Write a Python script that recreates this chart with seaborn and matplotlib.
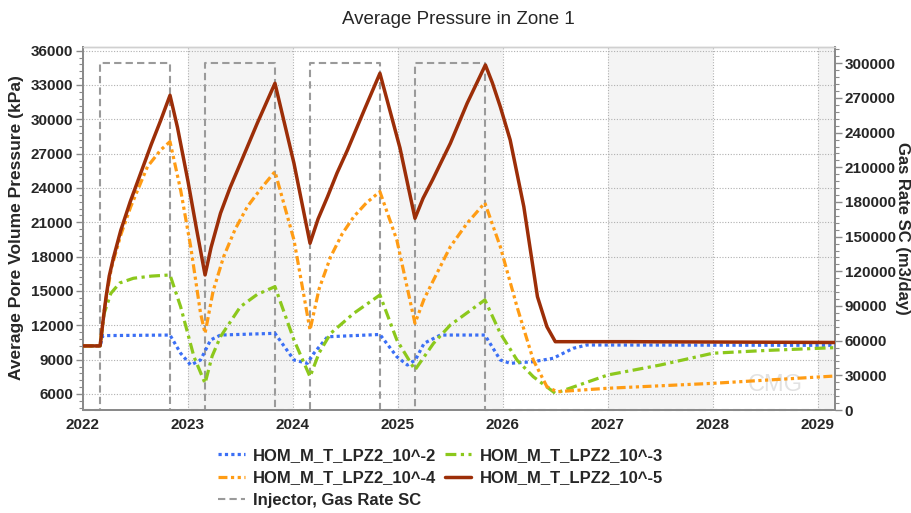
import numpy as np
import matplotlib
matplotlib.use('Agg')
import matplotlib.pyplot as plt
import pandas as pd
import seaborn as sns
from matplotlib.ticker import MultipleLocator

# ---- data (decimal years) ----
t_blue = [2022.0, 2022.163, 2022.19, 2022.829, 2022.93, 2023.026, 2023.12, 2023.216, 2023.31,
          2023.829, 2024.01, 2024.137, 2024.2, 2024.33, 2024.829, 2024.99, 2025.09, 2025.167,
          2025.25, 2025.405, 2025.829, 2025.976, 2026.07, 2026.29, 2026.48, 2026.67, 2026.8, 2029.165]
p_blue = [10200, 10200, 11100, 11150, 9560, 8530, 8970, 10720, 11150,
          11300, 8970, 8680, 9560, 11000, 11200, 9260, 8530, 8970,
          10430, 11150, 11150, 8970, 8680, 8820, 9120, 9990, 10280, 10250]

t_green = [2022.0, 2022.163, 2022.2, 2022.266, 2022.35, 2022.48, 2022.65, 2022.829, 2022.93,
           2023.057, 2023.163, 2023.23, 2023.31, 2023.5, 2023.66, 2023.829, 2024.01, 2024.163,
           2024.25, 2024.36, 2024.58, 2024.829, 2024.99, 2025.163, 2025.34, 2025.5, 2025.829,
           2025.976, 2026.135, 2026.29, 2026.5, 2027.0, 2027.5, 2028.0, 2028.5, 2029.165]
p_green = [10200, 10200, 13000, 14800, 15700, 16110, 16300, 16400, 13630,
           9260, 6930, 9300, 11010, 13630, 14700, 15380, 10720, 7510,
           9600, 11300, 13050, 14650, 10720, 8100, 10430, 12030, 14220,
           11300, 8970, 7510, 6060, 7660, 8530, 9560, 9800, 10050]

t_orange = [2022.0, 2022.163, 2022.2, 2022.27, 2022.36, 2022.455, 2022.614, 2022.74, 2022.829,
            2022.93, 2023.026, 2023.12, 2023.163, 2023.24, 2023.34, 2023.45, 2023.566, 2023.7,
            2023.829, 2024.01, 2024.163, 2024.25, 2024.36, 2024.47, 2024.58, 2024.7, 2024.829,
            2024.99, 2025.163, 2025.25, 2025.34, 2025.5, 2025.66, 2025.829, 2025.976, 2026.135,
            2026.29, 2026.42, 2026.516, 2027.0, 2028.0, 2029.165]
p_orange = [10200, 10200, 13200, 17000, 19900, 22370, 25860, 27320, 28050,
            23830, 18870, 13050, 11300, 15000, 18000, 20400, 22370, 24000,
            25430, 19460, 11590, 15200, 18000, 20000, 21490, 22700, 23680,
            19460, 12180, 14300, 15960, 18870, 20920, 22700, 18870, 13630,
            8970, 6640, 6200, 6500, 6930, 7570]

t_brown = [2022.0, 2022.163, 2022.19, 2022.22, 2022.25, 2022.29, 2022.36, 2022.45, 2022.55,
           2022.65, 2022.74, 2022.829, 2022.9, 2023.0, 2023.08, 2023.163, 2023.22, 2023.31,
           2023.4, 2023.5, 2023.66, 2023.829, 2024.01, 2024.163, 2024.24, 2024.33, 2024.42,
           2024.52, 2024.68, 2024.829, 2025.02, 2025.163, 2025.24, 2025.33, 2025.42, 2025.5,
           2025.66, 2025.834, 2025.9, 2025.976, 2026.07, 2026.2, 2026.33, 2026.42, 2026.5,
           2027.2, 2029.165]
p_brown = [10200, 10200, 12300, 14500, 16300, 17900, 20300, 22800, 25300,
           27800, 29900, 32100, 29300, 24600, 20500, 16400, 18800, 21790,
           24000, 26160, 29650, 33150, 26160, 19170, 21300, 23240, 25300,
           27320, 30820, 34020, 27500, 21350, 23100, 24700, 26400, 27900,
           31400, 34750, 33200, 31100, 28200, 22370, 14500, 11880, 10570,
           10570, 10500]

inj_start = [2022.163, 2023.163, 2024.163, 2025.163]
inj_end = [2022.829, 2023.829, 2024.829, 2025.829]
inj_rate = 300000

series_names = ['HOM_M_T_LPZ2_10^-2', 'HOM_M_T_LPZ2_10^-3',
                'HOM_M_T_LPZ2_10^-4', 'HOM_M_T_LPZ2_10^-5']
inj_name = 'Injector, Gas Rate SC'
year_ticks = list(range(2022, 2030))

# injector step series built from the start/end dates
t_gas, q_gas = [2022.0], [0]
for s, e in zip(inj_start, inj_end):
    t_gas += [s, s, e, e]
    q_gas += [0, inj_rate, inj_rate, 0]
t_gas.append(2029.165)
q_gas.append(0)

sns.set_style('white')
plt.rcParams['font.family'] = ['Liberation Sans', 'DejaVu Sans']

fig = plt.figure(figsize=(9.12, 5.13), dpi=100)
ax = fig.add_axes([83 / 912, 1 - 410 / 513, 752 / 912, 363 / 513])
ax2 = ax.twinx()

# pressure axis on top of the gas-rate axis, shading behind both
ax.set_zorder(ax2.get_zorder() + 1)
ax.patch.set_visible(False)
ax2.patch.set_facecolor('white')
for yr in [2023, 2025, 2027, 2029]:
    ax2.axvspan(yr, yr + 1, color='#f4f4f4', zorder=0, lw=0)

styles = [
    dict(color='#3b6ff5', lw=2.3, linestyle=(0, (1, 1)), dash_capstyle='butt'),
    dict(color='#8cc81c', lw=2.3, linestyle=(0, (3.4, 1.4, 1, 1.4)), dash_capstyle='butt'),
    dict(color='#ff9c14', lw=2.3, linestyle=(0, (2.8, 1.1, 1, 1.1, 1, 1.1)), dash_capstyle='butt'),
    dict(color='#9c2e08', lw=2.5, linestyle='-'),
]
data_t = [t_blue, t_green, t_orange, t_brown]
data_p = [p_blue, p_green, p_orange, p_brown]

handles = []
for tt, pp, st in zip(data_t, data_p, styles):
    sns.lineplot(x=tt, y=pp, ax=ax, sort=False, estimator=None, zorder=3, **st)
    handles.append(ax.lines[-1])

sns.lineplot(x=t_gas, y=q_gas, ax=ax2, sort=False, estimator=None, color='#9a9a9a',
             lw=1.5, linestyle=(0, (3.5, 2)), zorder=2, clip_on=False)
h_gas = ax2.lines[-1]

ax.set_xlim(2022, 2029.165)
ax.set_ylim(4600, 36320)
ax2.set_ylim(0, 314100)
ax.set_xticks(year_ticks)
ax.set_xticklabels([str(y) for y in year_ticks])
ax.set_yticks([y for y in range(6000, 36001, 3000)])
ax.yaxis.set_minor_locator(MultipleLocator(600))
ax2.yaxis.set_major_locator(MultipleLocator(30000))
ax2.yaxis.set_minor_locator(MultipleLocator(6000))

ax.grid(True, which='major', color='#b0b0b0', linestyle=(0, (1, 1.5)), lw=0.8)
ax2.grid(False)

for a in (ax, ax2):
    for side in ('left', 'right', 'bottom'):
        a.spines[side].set_color('#8a8a8a')
        a.spines[side].set_linewidth(1.4)
    a.spines['top'].set_color('#d0d0d0')
    a.spines['top'].set_linewidth(1.0)

ax.tick_params(axis='y', which='major', left=True, length=5, width=1, color='#8a8a8a',
               pad=2, labelsize=11)
ax.tick_params(axis='y', which='minor', left=True, length=3, width=0.8, color='#8a8a8a')
ax.tick_params(axis='x', length=0, pad=6, labelsize=11)
ax2.tick_params(axis='y', which='major', right=True, length=5, width=1, color='#8a8a8a',
                pad=2, labelsize=11)
ax2.tick_params(axis='y', which='minor', right=True, length=3, width=0.8, color='#8a8a8a')
for lab in ax.get_xticklabels() + ax.get_yticklabels() + ax2.get_yticklabels():
    lab.set_fontweight('bold')

ax.set_xlabel('')
ax.set_ylabel('')
ax2.set_ylabel('')

fig.text(0.503, 1 - 20 / 513, 'Average Pressure in Zone 1', ha='center', va='center',
         fontsize=13.5)
fig.text(17 / 912, 1 - 228 / 513, 'Average Pore Volume Pressure (kPa)', rotation=90,
         ha='center', va='center', fontsize=12.5, fontweight='bold')
fig.text(903 / 912, 1 - 228 / 513, 'Gas Rate SC (m3/day)', rotation=-90,
         ha='center', va='center', fontsize=12, fontweight='bold')

# faint watermark
ax.text(0.92, 0.07, 'CMG', transform=ax.transAxes, ha='center', va='center',
        fontsize=17, color='#e2e2e2', zorder=1)

leg_handles = [handles[0], handles[2], h_gas, handles[1], handles[3]]
leg_labels = [series_names[0], series_names[2], inj_name, series_names[1], series_names[3]]
fig.legend(leg_handles, leg_labels, ncol=2, loc='upper left',
           bbox_to_anchor=(218 / 912, 1 - 448 / 513), frameon=False,
           prop={'weight': 'bold', 'size': 12}, handlelength=1.6, handletextpad=0.5,
           columnspacing=0.5, labelspacing=0.45, borderpad=0, borderaxespad=0)

fig.savefig('out.png', dpi=100)
